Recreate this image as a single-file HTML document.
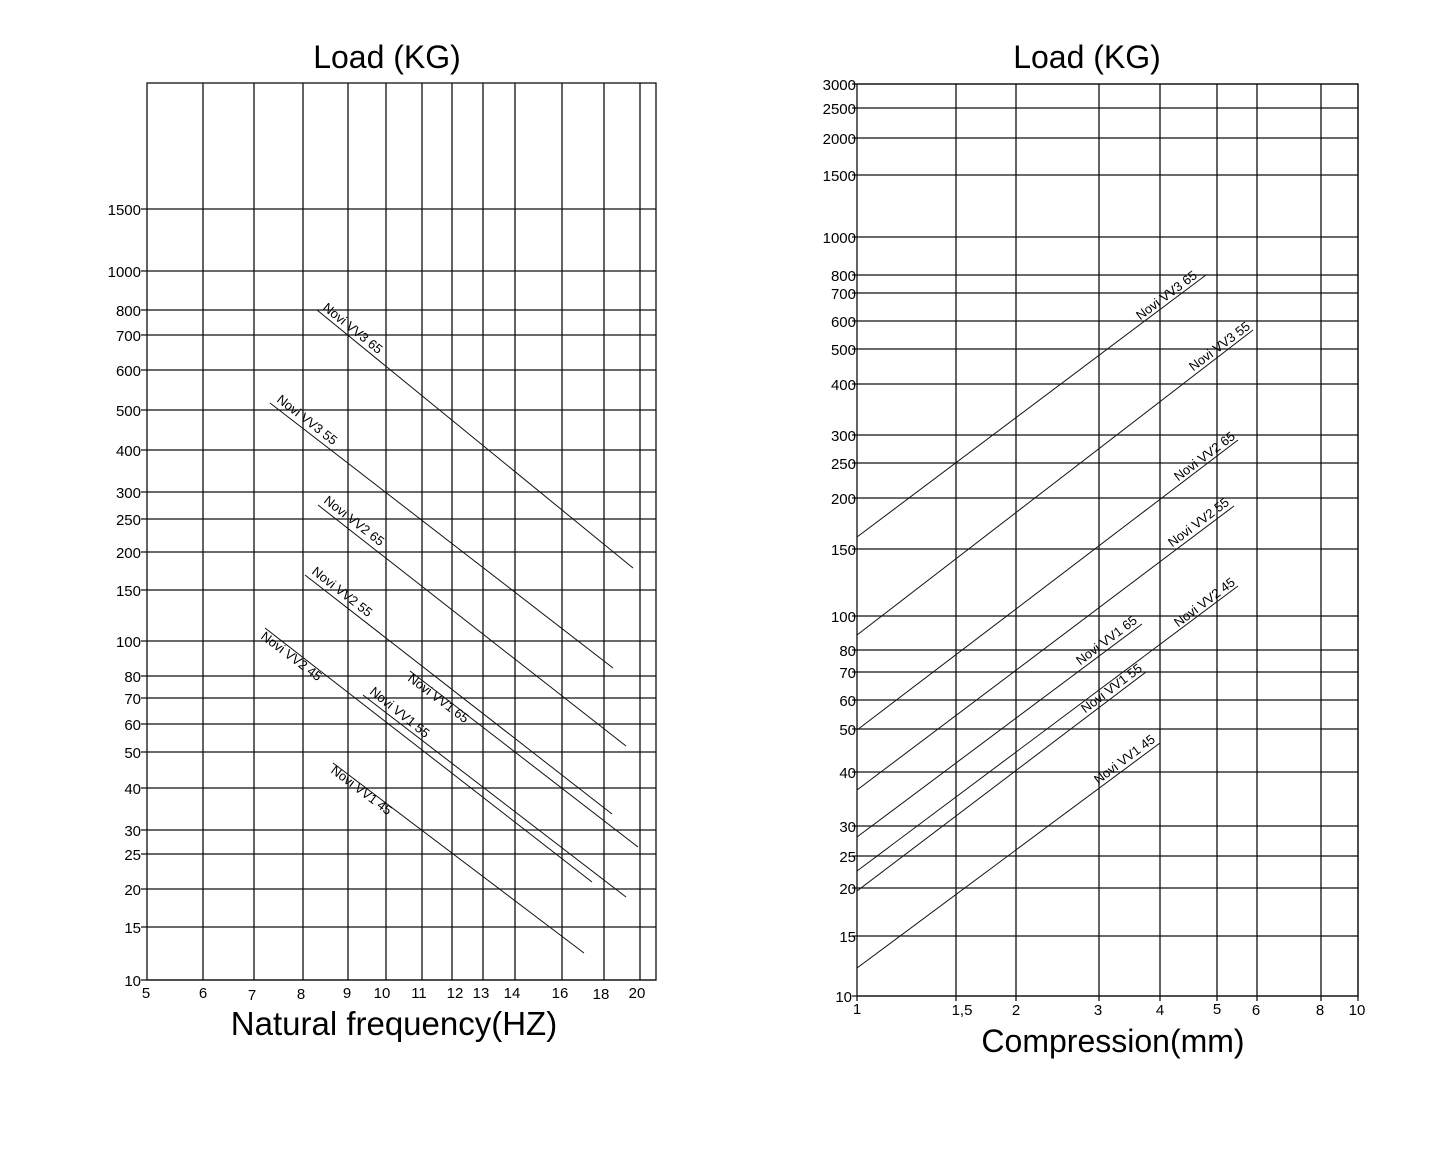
<!DOCTYPE html>
<html><head><meta charset="utf-8"><style>
html,body{margin:0;padding:0;background:#fff;}
svg{display:block;font-family:"Liberation Sans",Arial,sans-serif;}
</style></head><body>
<svg width="1445" height="1156" viewBox="0 0 1445 1156" xmlns="http://www.w3.org/2000/svg">
<rect width="1445" height="1156" fill="#fff"/>
<!-- LEFT CHART -->
<text x="387" y="68" font-size="32" text-anchor="middle">Load (KG)</text>
<g stroke="#111" stroke-width="1.3" fill="none">
<rect x="147" y="83" width="509" height="897"/>
<line x1="203" y1="83" x2="203" y2="980"/><line x1="254" y1="83" x2="254" y2="980"/>
<line x1="303" y1="83" x2="303" y2="980"/><line x1="348" y1="83" x2="348" y2="980"/>
<line x1="386" y1="83" x2="386" y2="980"/><line x1="422" y1="83" x2="422" y2="980"/>
<line x1="452" y1="83" x2="452" y2="980"/><line x1="483" y1="83" x2="483" y2="980"/>
<line x1="515" y1="83" x2="515" y2="980"/><line x1="562" y1="83" x2="562" y2="980"/>
<line x1="604" y1="83" x2="604" y2="980"/><line x1="640" y1="83" x2="640" y2="980"/>
<line x1="141" y1="209" x2="656" y2="209"/><line x1="141" y1="271" x2="656" y2="271"/>
<line x1="141" y1="310" x2="656" y2="310"/><line x1="141" y1="335" x2="656" y2="335"/>
<line x1="141" y1="370" x2="656" y2="370"/><line x1="141" y1="410" x2="656" y2="410"/>
<line x1="141" y1="450" x2="656" y2="450"/><line x1="141" y1="492" x2="656" y2="492"/>
<line x1="141" y1="519" x2="656" y2="519"/><line x1="141" y1="552" x2="656" y2="552"/>
<line x1="141" y1="590" x2="656" y2="590"/><line x1="141" y1="641" x2="656" y2="641"/>
<line x1="141" y1="676" x2="656" y2="676"/><line x1="141" y1="698" x2="656" y2="698"/>
<line x1="141" y1="724" x2="656" y2="724"/><line x1="141" y1="752" x2="656" y2="752"/>
<line x1="141" y1="788" x2="656" y2="788"/><line x1="141" y1="830" x2="656" y2="830"/>
<line x1="141" y1="854" x2="656" y2="854"/><line x1="141" y1="889" x2="656" y2="889"/>
<line x1="141" y1="927" x2="656" y2="927"/><line x1="141" y1="980" x2="656" y2="980"/>
</g>
<g font-size="15" text-anchor="end">
<text x="141" y="215">1500</text><text x="141" y="277">1000</text><text x="141" y="316">800</text>
<text x="141" y="341">700</text><text x="141" y="376">600</text><text x="141" y="416">500</text>
<text x="141" y="456">400</text><text x="141" y="498">300</text><text x="141" y="525">250</text>
<text x="141" y="558">200</text><text x="141" y="596">150</text><text x="141" y="647">100</text>
<text x="141" y="682">80</text><text x="141" y="704">70</text><text x="141" y="730">60</text>
<text x="141" y="758">50</text><text x="141" y="794">40</text><text x="141" y="836">30</text>
<text x="141" y="860">25</text><text x="141" y="895">20</text><text x="141" y="933">15</text>
<text x="141" y="986">10</text>
</g>
<g font-size="15" text-anchor="middle">
<text x="146" y="998">5</text><text x="203" y="998">6</text><text x="252" y="1000">7</text>
<text x="301" y="999">8</text><text x="347" y="998">9</text><text x="382" y="998">10</text>
<text x="419" y="998">11</text><text x="455" y="998">12</text><text x="481" y="998">13</text>
<text x="512" y="998">14</text><text x="560" y="998">16</text><text x="601" y="999">18</text>
<text x="637" y="998">20</text>
</g>
<text x="394" y="1035" font-size="33" text-anchor="middle">Natural frequency(HZ)</text>
<g stroke="#111" stroke-width="1">
<line x1="317" y1="310" x2="633" y2="568"/>
<line x1="270" y1="403" x2="613" y2="668"/>
<line x1="318" y1="505" x2="626" y2="746"/>
<line x1="305" y1="575" x2="612" y2="814"/>
<line x1="265" y1="628" x2="592" y2="882"/>
<line x1="410" y1="671" x2="638" y2="847"/>
<line x1="363" y1="695" x2="626" y2="897"/>
<line x1="333" y1="763" x2="584" y2="953"/>
</g>
<g font-size="13">
<text transform="translate(322,309) rotate(39)">Novi VV3 65</text>
<text transform="translate(276,401) rotate(38)">Novi VV3 55</text>
<text transform="translate(323,502) rotate(38)">Novi VV2 65</text>
<text transform="translate(311,573) rotate(38)">Novi VV2 55</text>
<text transform="translate(260,638) rotate(37)">Novi VV2 45</text>
<text transform="translate(407,680) rotate(37)">Novi VV1 65</text>
<text transform="translate(369,693) rotate(39)">Novi VV1 55</text>
<text transform="translate(330,772) rotate(37)">Novi VV1 45</text>
</g>
<!-- RIGHT CHART -->
<text x="1087" y="68" font-size="32" text-anchor="middle">Load (KG)</text>
<g stroke="#111" stroke-width="1.3" fill="none">
<rect x="857" y="84" width="501" height="912"/>
<line x1="956" y1="84" x2="956" y2="1001"/><line x1="1016" y1="84" x2="1016" y2="1001"/>
<line x1="1099" y1="84" x2="1099" y2="1001"/><line x1="1160" y1="84" x2="1160" y2="1001"/>
<line x1="1217" y1="84" x2="1217" y2="1001"/><line x1="1257" y1="84" x2="1257" y2="1001"/>
<line x1="1321" y1="84" x2="1321" y2="1001"/><line x1="1358" y1="84" x2="1358" y2="1001"/>
<line x1="857" y1="996" x2="857" y2="1001"/>
<line x1="852" y1="84" x2="1358" y2="84"/><line x1="852" y1="108" x2="1358" y2="108"/>
<line x1="852" y1="138" x2="1358" y2="138"/><line x1="852" y1="175" x2="1358" y2="175"/>
<line x1="852" y1="237" x2="1358" y2="237"/><line x1="852" y1="275" x2="1358" y2="275"/>
<line x1="852" y1="293" x2="1358" y2="293"/><line x1="852" y1="321" x2="1358" y2="321"/>
<line x1="852" y1="349" x2="1358" y2="349"/><line x1="852" y1="384" x2="1358" y2="384"/>
<line x1="852" y1="435" x2="1358" y2="435"/><line x1="852" y1="463" x2="1358" y2="463"/>
<line x1="852" y1="498" x2="1358" y2="498"/><line x1="852" y1="549" x2="1358" y2="549"/>
<line x1="852" y1="616" x2="1358" y2="616"/><line x1="852" y1="650" x2="1358" y2="650"/>
<line x1="852" y1="672" x2="1358" y2="672"/><line x1="852" y1="700" x2="1358" y2="700"/>
<line x1="852" y1="729" x2="1358" y2="729"/><line x1="852" y1="772" x2="1358" y2="772"/>
<line x1="852" y1="826" x2="1358" y2="826"/><line x1="852" y1="856" x2="1358" y2="856"/>
<line x1="852" y1="888" x2="1358" y2="888"/><line x1="852" y1="936" x2="1358" y2="936"/>
<line x1="852" y1="996" x2="1358" y2="996"/>
</g>
<g font-size="15" text-anchor="end">
<text x="856" y="90">3000</text><text x="856" y="114">2500</text><text x="856" y="144">2000</text>
<text x="856" y="181">1500</text><text x="856" y="243">1000</text><text x="856" y="281">800</text>
<text x="856" y="299">700</text><text x="856" y="327">600</text><text x="856" y="355">500</text>
<text x="856" y="390">400</text><text x="856" y="441">300</text><text x="856" y="469">250</text>
<text x="856" y="504">200</text><text x="856" y="555">150</text><text x="856" y="622">100</text>
<text x="856" y="656">80</text><text x="856" y="678">70</text><text x="856" y="706">60</text>
<text x="856" y="735">50</text><text x="856" y="778">40</text><text x="856" y="832">30</text>
<text x="856" y="862">25</text><text x="856" y="894">20</text><text x="856" y="942">15</text>
<text x="852" y="1002">10</text>
</g>
<g font-size="15" text-anchor="middle">
<text x="857" y="1014">1</text><text x="962" y="1015">1,5</text><text x="1016" y="1015">2</text>
<text x="1098" y="1015">3</text><text x="1160" y="1015">4</text><text x="1217" y="1014">5</text>
<text x="1256" y="1015">6</text><text x="1320" y="1015">8</text><text x="1357" y="1015">10</text>
</g>
<text x="1113" y="1052" font-size="32" text-anchor="middle">Compression(mm)</text>
<g stroke="#111" stroke-width="1">
<line x1="857" y1="537" x2="1206" y2="275"/>
<line x1="857" y1="635" x2="1253" y2="330"/>
<line x1="857" y1="730" x2="1238" y2="440"/>
<line x1="857" y1="790" x2="1234" y2="506"/>
<line x1="857" y1="837" x2="1142" y2="624"/>
<line x1="857" y1="871" x2="1238" y2="586"/>
<line x1="857" y1="891" x2="1146" y2="672"/>
<line x1="857" y1="968" x2="1160" y2="743"/>
</g>
<g font-size="13" text-anchor="end">
<text transform="translate(1198,277) rotate(-37)">Novi VV3 65</text>
<text transform="translate(1251,328) rotate(-37)">Novi VV3 55</text>
<text transform="translate(1236,438) rotate(-37)">Novi VV2 65</text>
<text transform="translate(1230,504) rotate(-37)">Novi VV2 55</text>
<text transform="translate(1138,622) rotate(-37)">Novi VV1 65</text>
<text transform="translate(1236,584) rotate(-37)">Novi VV2 45</text>
<text transform="translate(1143,670) rotate(-37)">Novi VV1 55</text>
<text transform="translate(1156,741) rotate(-37)">Novi VV1 45</text>
</g>
</svg>
</body></html>
